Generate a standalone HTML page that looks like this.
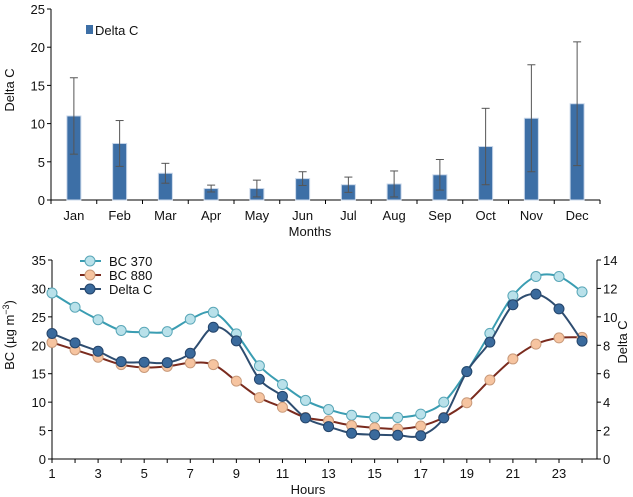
<!DOCTYPE html>
<html><head><meta charset="utf-8"><style>
body{margin:0;background:#fff;}
svg{display:block;font-family:"Liberation Sans",sans-serif;}
</style></head><body>
<svg id="c" width="633" height="497"></svg>
<script>
const months=["Jan","Feb","Mar","Apr","May","Jun","Jul","Aug","Sep","Oct","Nov","Dec"];
const deltaMonthly=[11.0,7.4,3.5,1.5,1.5,2.8,2.0,2.1,3.3,7.0,10.7,12.6];
const deltaErr=[5.0,3.0,1.3,0.45,1.1,0.9,1.0,1.7,2.0,5.0,7.0,8.1];
const topTicks=[0,5,10,15,20,25];
const hours=[1,2,3,4,5,6,7,8,9,10,11,12,13,14,15,16,17,18,19,20,21,22,23,24];
const bc370=[29.2,26.7,24.5,22.6,22.3,22.4,24.6,25.8,22.0,16.4,13.1,10.3,8.7,7.7,7.3,7.3,7.9,10.0,15.4,22.1,28.7,32.1,32.1,29.4];
const bc880=[20.5,19.2,17.9,16.6,16.1,16.3,16.9,16.6,13.7,10.8,9.1,7.3,6.7,5.9,5.5,5.3,5.8,7.3,9.9,13.9,17.6,20.2,21.3,21.4];
const deltaHourly=[8.83,8.17,7.58,6.85,6.81,6.78,7.44,9.27,8.31,5.61,4.41,2.89,2.28,1.81,1.71,1.67,1.64,2.89,6.15,8.22,10.85,11.6,10.56,8.29];
const leftTicks=[0,5,10,15,20,25,30,35];
const rightTicks=[0,2,4,6,8,10,12,14];
const hourTicks=[1,3,5,7,9,11,13,15,17,19,21,23];

const svg=document.getElementById('c');
const NS="http://www.w3.org/2000/svg";
function mk(t,a,parent){const e=document.createElementNS(NS,t);for(const k in a)e.setAttribute(k,a[k]);(parent||svg).appendChild(e);return e;}
function txt(x,y,s,anchor,size,parent){const e=mk('text',{x:x,y:y,'text-anchor':anchor||'middle','font-size':size||13,fill:'#111'},parent);e.textContent=s;return e;}

// ---------- top chart ----------
const tX0=51,tX1=600,tY0=200,tY1=9;
const ty=v=>tY0-(v/25)*(tY0-tY1);
const cw=(tX1-tX0)/months.length;
const tx=i=>tX0+cw*(i+0.5);
const topG=mk('g',{});


mk('line',{x1:tX0,y1:tY1,x2:tX0,y2:tY0,stroke:'#000'},topG);
mk('line',{x1:tX0,y1:tY0,x2:tX1,y2:tY0,stroke:'#000'},topG);
topTicks.forEach(v=>{mk('line',{x1:tX0-4,y1:ty(v),x2:tX0,y2:ty(v),stroke:'#000'},topG);
 const t=txt(tX0-6,ty(v)+5,String(v),'end',13,topG);
 
 });
for(let i=0;i<=months.length;i++)mk('line',{x1:tX0+cw*i,y1:tY0,x2:tX0+cw*i,y2:tY0+4,stroke:'#000'},topG);
months.forEach((m,i)=>{
 const h=ty(0)-ty(deltaMonthly[i]);
 const b=mk('rect',{x:tx(i)-7,y:ty(deltaMonthly[i]),width:14,height:h,fill:'#3d6fa6',stroke:'#c9d7ea','stroke-width':1},topG);
 
 
 const lo=deltaMonthly[i]-deltaErr[i],hi=deltaMonthly[i]+deltaErr[i];
 const eb=mk('g',{stroke:'#555','stroke-width':1},topG);
 
 
 mk('line',{x1:tx(i),y1:ty(hi),x2:tx(i),y2:ty(lo)},eb);
 mk('line',{x1:tx(i)-4,y1:ty(hi),x2:tx(i)+4,y2:ty(hi)},eb);
 mk('line',{x1:tx(i)-4,y1:ty(lo),x2:tx(i)+4,y2:ty(lo)},eb);
 const t=txt(tx(i),220,m,'middle',13,topG);
 
 
});
const t1=txt(310,236,'Months','middle',13,topG);


const t2=txt(0,0,'Delta C','middle',13,topG);
t2.setAttribute('transform','translate(14,90) rotate(-90)');


const lg=mk('g',{},topG);


mk('rect',{x:86,y:25,width:7,height:9,fill:'#3d6fa6'},lg);txt(95,35,'Delta C','start',13,lg);

// ---------- bottom chart ----------
const bX0=52,bX1=597,bY0=459,bY1=260;
const hx=h=>bX0+(h-1)*(559-52)/22;
const ly=v=>bY0-(v/35)*(bY0-bY1);
const ry=v=>bY0-(v/14)*(bY0-bY1);
const botG=mk('g',{});


mk('line',{x1:bX0,y1:bY1,x2:bX0,y2:bY0,stroke:'#000'},botG);
mk('line',{x1:bX1,y1:bY1,x2:bX1,y2:bY0,stroke:'#000'},botG);
mk('line',{x1:bX0,y1:bY0,x2:bX1,y2:bY0,stroke:'#000'},botG);
leftTicks.forEach(v=>{mk('line',{x1:bX0-4,y1:ly(v),x2:bX0,y2:ly(v),stroke:'#000'},botG);
 const t=txt(bX0-6,ly(v)+5,String(v),'end',13,botG);
 
 });
rightTicks.forEach(v=>{mk('line',{x1:bX1,y1:ry(v),x2:bX1+4,y2:ry(v),stroke:'#000'},botG);
 const t=txt(bX1+6,ry(v)+5,String(v),'start',13,botG);
 
 });
hours.forEach(h=>mk('line',{x1:hx(h),y1:bY0,x2:hx(h),y2:bY0+4,stroke:'#000'},botG));
hourTicks.forEach(h=>{const t=txt(hx(h),478,String(h),'middle',13,botG);
 
 });
const t3=txt(308,494,'Hours','middle',13,botG);


const yt=mk('text',{'text-anchor':'middle','font-size':13,fill:'#111',transform:'translate(14,335) rotate(-90)'},botG);


yt.appendChild(document.createTextNode('BC (µg m'));
const sup=mk('tspan',{dy:-5,'font-size':9},yt);sup.textContent='−3';
const cl=mk('tspan',{dy:5},yt);cl.textContent=')';
const t4=txt(0,0,'Delta C','middle',13,botG);
t4.setAttribute('transform','translate(627,342) rotate(-90)');



function smooth(pts){let d='M'+pts[0][0]+','+pts[0][1];
 for(let i=0;i<pts.length-1;i++){const p0=pts[i-1]||pts[i],p1=pts[i],p2=pts[i+1],p3=pts[i+2]||p2;
  d+=' C'+(p1[0]+(p2[0]-p0[0])/6)+','+(p1[1]+(p2[1]-p0[1])/6)+' '+(p2[0]-(p3[0]-p1[0])/6)+','+(p2[1]-(p3[1]-p1[1])/6)+' '+p2[0]+','+p2[1];}
 return d;}
function series(vals,yf,line,fill,stroke,name){
 const g=mk('g',{},botG);
 
 
 const pts=vals.map((v,i)=>[hx(hours[i]),yf(v)]);
 mk('path',{d:smooth(pts),fill:'none',stroke:line,'stroke-width':2},g);
 pts.forEach(p=>{const c=mk('circle',{cx:p[0],cy:p[1],r:5,fill:fill,stroke:stroke,'stroke-width':1},g);
  
  });
}
series(bc370,ly,'#3a9db2','#b9e1ea','#5aa7b8','bc370-series');
series(bc880,ly,'#7a2b1e','#f6c4a0','#c99a7a','bc880-series');
series(deltaHourly,ry,'#2e4d70','#3a6a9c','#24446a','delta-c-series');

const leg=[['BC 370','#3a9db2','#b9e1ea','#5aa7b8'],['BC 880','#7a2b1e','#f6c4a0','#c99a7a'],['Delta C','#2e4d70','#3a6a9c','#24446a']];
leg.forEach((l,i)=>{const y=261+i*14;const g=mk('g',{},botG);
 
 
 mk('line',{x1:80,y1:y,x2:101,y2:y,stroke:l[1],'stroke-width':2},g);
 mk('circle',{cx:90,cy:y,r:5,fill:l[2],stroke:l[3]},g);
 txt(109,y+5,l[0],'start',13,g);});
</script>
</body></html>
